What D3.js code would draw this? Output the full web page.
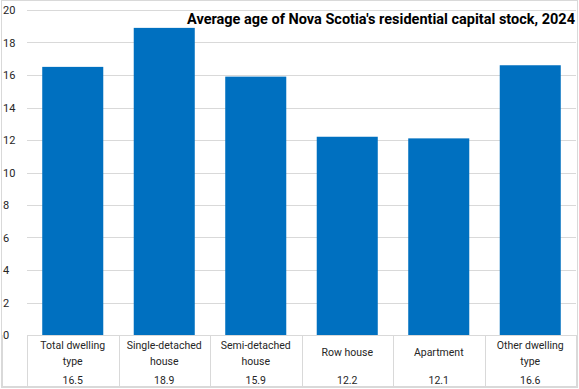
<!DOCTYPE html>
<meta charset="utf-8">
<style>
  body { margin: 0; background: white; }
  svg { display: block; font-family: "Roboto", "Noto Sans", sans-serif; }
  .tick text, .cat, .val { fill: #262626; font-size: 10.5px; }
  .tick text { font-size: 11px; }
  .grid line { stroke: #d9d9d9; }
  .title { font-size: 14.5px; font-weight: bold; fill: #000; }
  .tbl { stroke: #d9d9d9; stroke-width: 1; fill: none; }
</style>
<svg width="579" height="389"></svg>
<script src="https://d3js.org/d3.v7.min.js"></script>
<script>
var categories = [["Total dwelling", "type"], ["Single-detached", "house"], ["Semi-detached", "house"], ["Row house"], ["Apartment"], ["Other dwelling", "type"]];
var values = [16.5, 18.9, 15.9, 12.2, 12.1, 16.6];
var yTicks = [0, 2, 4, 6, 8, 10, 12, 14, 16, 18, 20];
var title = "Average age of Nova Scotia's residential capital stock, 2024";

var svg = d3.select("svg"),
    plotLeft = 27, plotRight = 576, plotTop = 10, plotBottom = 335, tableBottom = 387;

var x = d3.scaleBand()
    .domain(d3.range(categories.length))
    .range([plotLeft, plotRight])
    .paddingInner(0.333)
    .paddingOuter(0.1665);

var y = d3.scaleLinear()
    .domain([0, 20])
    .range([plotBottom, plotTop]);

// chart area border
svg.append("rect").attr("class", "tbl")
    .attr("x", 1.5).attr("y", 0.5).attr("width", 576).attr("height", 387);

// gridlines
svg.append("g").attr("class", "grid")
    .selectAll("line").data(yTicks.filter(d => d > 0)).join("line")
    .attr("x1", plotLeft).attr("x2", plotRight)
    .attr("y1", d => Math.round(y(d)) + 0.5).attr("y2", d => Math.round(y(d)) + 0.5);

// y axis labels
var yAxis = svg.append("g")
    .attr("transform", "translate(3,0)")
    .call(d3.axisRight(y).tickValues(yTicks).tickSize(0).tickPadding(0));
yAxis.select(".domain").remove();
yAxis.attr("font-family", null).attr("font-size", null);

// bars
svg.append("g").selectAll("rect").data(values).join("rect")
    .attr("x", (d, i) => x(i))
    .attr("width", x.bandwidth())
    .attr("y", d => y(d))
    .attr("height", d => y(0) - y(d))
    .attr("fill", "#0070c0");

// data table
var bounds = d3.range(categories.length + 1).map(i => plotLeft + i * (plotRight - plotLeft) / categories.length);
svg.append("line").attr("class", "tbl")
    .attr("x1", plotLeft).attr("x2", plotRight).attr("y1", plotBottom + 0.5).attr("y2", plotBottom + 0.5);
svg.append("line").attr("class", "tbl")
    .attr("x1", 2).attr("x2", plotRight).attr("y1", tableBottom - 0.5).attr("y2", tableBottom - 0.5);
svg.append("line").attr("class", "tbl")
    .attr("x1", 2.5).attr("x2", 2.5).attr("y1", plotBottom).attr("y2", tableBottom);
svg.append("g").selectAll("line").data(bounds).join("line").attr("class", "tbl")
    .attr("x1", d => Math.round(d) + 0.5).attr("x2", d => Math.round(d) + 0.5)
    .attr("y1", plotBottom).attr("y2", tableBottom);

var cats = svg.append("g").selectAll("text").data(categories).join("text")
    .attr("class", "cat")
    .attr("text-anchor", "middle")
    .attr("x", (d, i) => x(i) + x.bandwidth() / 2)
    .attr("y", d => d.length > 1 ? 349 : 356);
cats.selectAll("tspan").data(d => d).join("tspan")
    .attr("x", function () { return d3.select(this.parentNode).attr("x"); })
    .attr("dy", (d, i) => i ? 16 : 0)
    .text(d => d);

svg.append("g").selectAll("text").data(values).join("text")
    .attr("class", "val")
    .attr("text-anchor", "middle")
    .attr("x", (d, i) => x(i) + x.bandwidth() / 2)
    .attr("y", 384)
    .text(d => d.toFixed(1));

svg.append("text").attr("class", "title")
    .attr("x", 575).attr("y", 24)
    .attr("text-anchor", "end")
    .text(title);
</script>
